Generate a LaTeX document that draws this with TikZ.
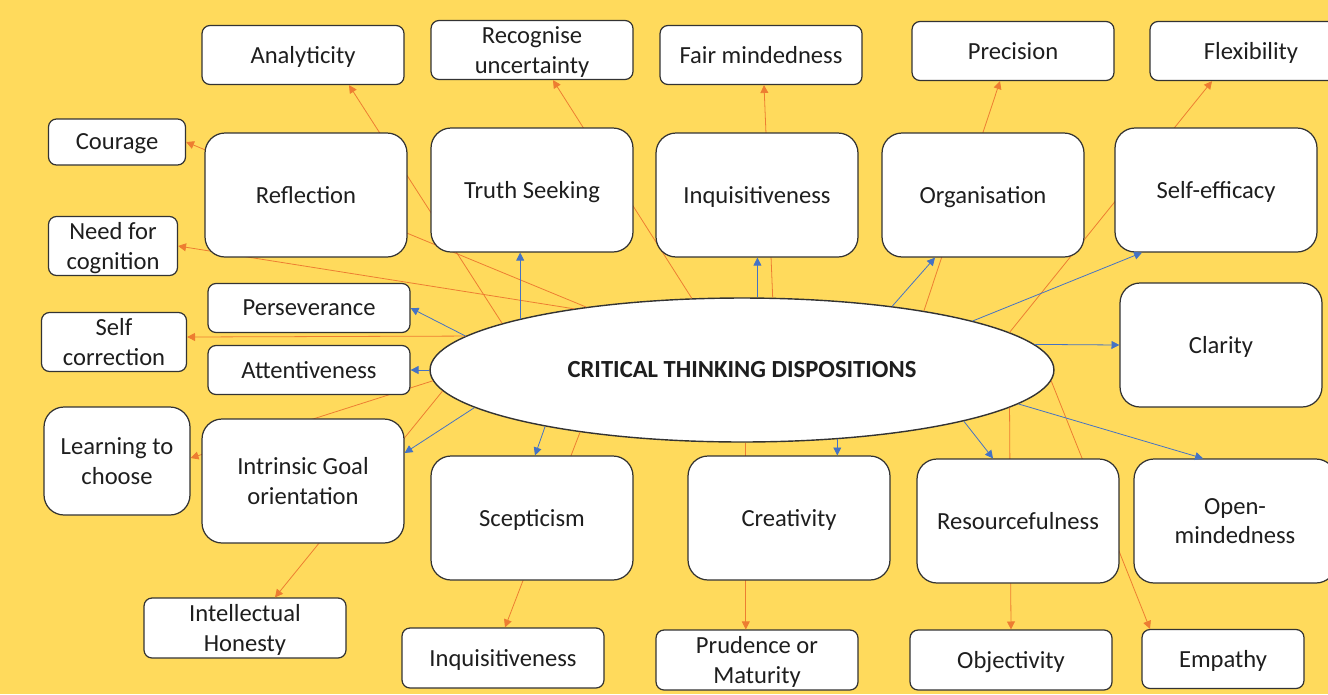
\documentclass[tikz,border=0pt]{standalone}
\usepackage{fontspec}
\setmainfont{Carlito}
\usetikzlibrary{arrows.meta,calc,shapes.geometric}
\definecolor{ctyellow}{HTML}{FFDA5C}
\definecolor{ctorange}{HTML}{ED7D31}
\definecolor{ctblue}{HTML}{4472C4}
\definecolor{ctline}{HTML}{333333}
\definecolor{ctink}{HTML}{1E1E1E}

\begin{document}
\begin{tikzpicture}[x=0.02cm,y=-0.02cm,
    card/.style={draw=ctline, line width=0.7pt, fill=white, rounded corners=0.16cm, align=center,
      inner sep=0pt, text=ctink, text depth=0pt, font=\fontsize{14}{17}\selectfont,
      minimum width=4.04cm, minimum height=1.18cm},
    tile/.style={card, rounded corners=0.4cm, minimum height=2.48cm},
    hub/.style={ellipse, draw=ctline, line width=0.8pt, fill=white, inner sep=0pt, text=ctink,
      font=\fontsize{14}{17}\selectfont\bfseries, minimum width=12.48cm, minimum height=2.88cm},
    spoke/.style={draw=ctorange, line width=0.45pt, -{Triangle[length=4.5pt,width=4.5pt]}},
    feeder/.style={draw=ctblue, line width=0.45pt, -{Triangle[length=4.5pt,width=4.5pt]}}]
  \clip (0,0) rectangle (1328,694);
  \fill[ctyellow] (0,0) rectangle (1328,694);

  % centre
  \node[hub] (ctd) at (742,370) {CRITICAL THINKING DISPOSITIONS};

  % outer ring
  \node[card] (anal) at (303,55) {Analyticity};
  \node[card] (reco) at (532,50) {Recognise\\uncertainty};
  \node[card] (fair) at (761,55) {Fair mindedness};
  \node[card] (prec) at (1013,51) {Precision};
  \node[card] (flex) at (1251,51) {Flexibility};
  \node[card, minimum width=2.74cm, minimum height=0.92cm] (cour) at (117,142) {Courage};
  \node[card, minimum width=2.58cm] (need) at (113,246) {Need for\\cognition};
  \node[card, minimum width=2.9cm] (selfc) at (114,342) {Self\\correction};
  \node[tile, minimum width=2.92cm, minimum height=2.16cm] (lear) at (117,461) {Learning to\\choose};
  \node[card, minimum height=1.2cm] (inte) at (245,628) {Intellectual\\Honesty};
  \node[card, minimum height=1.2cm] (inqb) at (503,658) {Inquisitiveness};
  \node[card, minimum height=1.2cm] (prud) at (757,660) {Prudence or\\Maturity};
  \node[card, minimum height=1.2cm] (obj) at (1011,660) {Objectivity};
  \node[card, minimum width=3.24cm] (emp) at (1223,659) {Empathy};

  % orange links, behind the inner ring
  \draw[spoke] (ctd.169) -- ($(anal.south)+(46,0)$);
  \draw[spoke] (ctd.125) -- ($(reco.south)+(21,0)$);
  \draw[spoke] (ctd.67) -- ($(fair.south)+(3,0)$);
  \draw[spoke] (ctd.18) -- ($(prec.south)+(-13,0)$);
  \draw[spoke] (ctd.8) -- ($(flex.south)+(-39,0)$);
  \draw[spoke] (ctd.158) -- (cour.east);
  \draw[spoke] (ctd.160) -- (need.east);
  \draw[spoke] (ctd.173) -- ($(selfc.east)+(0,-5)$);
  \draw[spoke] (ctd.-178) -- ($(lear.east)+(0,-3)$);
  \draw[spoke] (ctd.-176) -- ($(inte.north)+(30,0)$);
  \draw[spoke] (ctd.-159) -- ($(inqb.north)+(2,0)$);
  \draw[spoke] (ctd.-87) -- (ctd.-87 |- prud.north);
  \draw[spoke] (ctd.-8) -- (obj.north);
  \draw[spoke] (ctd.-2) -- ($(emp.north)+(-73,0)$);

  % inner ring
  \node[tile] (refl) at (306,195) {Reflection};
  \node[tile] (truth) at (532,190) {Truth Seeking};
  \node[tile] (inqa) at (757,195) {Inquisitiveness};
  \node[tile] (org) at (983,195) {Organisation};
  \node[tile] (selfe) at (1216,190) {Self-efficacy};
  \node[tile] (clar) at (1221,345) {Clarity};
  \node[card, minimum height=0.98cm] (pers) at (309,308) {Perseverance};
  \node[card, minimum height=0.98cm] (att) at (309,370) {Attentiveness};
  \node[tile] (intr) at (303,481) {Intrinsic Goal\\orientation};
  \node[tile] (scep) at (532,518) {Scepticism};
  \node[tile] (crea) at (789,518) {Creativity};
  \node[tile] (res) at (1018,521) {Resourcefulness};
  \node[tile] (open) at (1235,521) {Open-\\mindedness};

  % blue arrows
  \draw[feeder] (ctd.173) -- (pers.east);
  \draw[feeder] (ctd.west) -- (att.east);
  \draw[feeder] (ctd.167) -- (ctd.167 |- truth.south);
  \draw[feeder] (ctd.78) -- (ctd.78 |- inqa.south);
  \draw[feeder] (ctd.23) -- ($(org.south)+(-48,0)$);
  \draw[feeder] (ctd.12) -- ($(selfe.south)+(-74,0)$);
  \draw[feeder] (ctd.5) -- (clar.west);
  \draw[feeder] (ctd.-7) -- ($(open.north)+(-32,0)$);
  \draw[feeder] (ctd.-13) -- ($(res.north)+(-25,0)$);
  \draw[feeder] (ctd.-36) -- (ctd.-36 |- crea.north);
  \draw[feeder] (ctd.-164) -- ($(scep.north)+(3,0)$);
  \draw[feeder] (ctd.-172) -- ($(intr.east)+(0,-28)$);
\end{tikzpicture}
\end{document}
